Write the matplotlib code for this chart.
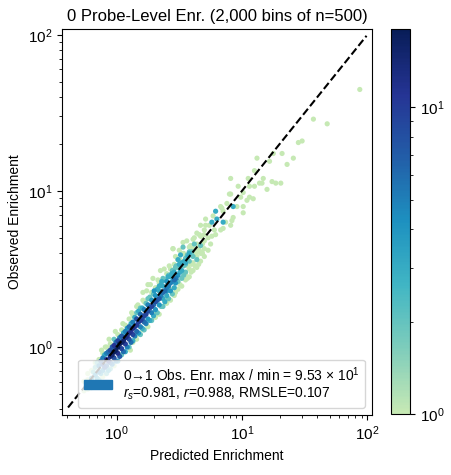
import numpy as np
import matplotlib
matplotlib.use("Agg")
import matplotlib.pyplot as plt
from matplotlib.colors import LinearSegmentedColormap, LogNorm
from matplotlib.patches import Patch

plt.rcParams["font.family"] = ["Liberation Sans", "DejaVu Sans"]
plt.rcParams["mathtext.fontset"] = "custom"
plt.rcParams["mathtext.rm"] = "Liberation Sans"
plt.rcParams["mathtext.it"] = "Liberation Sans:italic"
plt.rcParams["mathtext.default"] = "regular"

# log10 of predicted / observed enrichment and number of probes per bin
log_pred = [
    -0.26, -0.26,
    -0.23, -0.23, -0.23,
    -0.20, -0.20, -0.20,
    -0.17, -0.17, -0.17, -0.17,
    -0.14, -0.14, -0.14, -0.14,
    -0.11, -0.11, -0.11, -0.11, -0.11,
    -0.08, -0.08, -0.08, -0.08, -0.08,
    -0.05, -0.05, -0.05, -0.05, -0.05,
    -0.02, -0.02, -0.02, -0.02, -0.02,
    0.01, 0.01, 0.01, 0.01, 0.01,
    0.04, 0.04, 0.04, 0.04, 0.04,
    0.07, 0.07, 0.07, 0.07, 0.07,
    0.10, 0.10, 0.10, 0.10, 0.10,
    0.13, 0.13, 0.13, 0.13, 0.13,
    0.16, 0.16, 0.16, 0.16, 0.16, 0.16,
    0.19, 0.19, 0.19, 0.19, 0.19,
    0.22, 0.22, 0.22, 0.22, 0.22,
    0.25, 0.25, 0.25, 0.25, 0.25,
    0.28, 0.28, 0.28, 0.28, 0.28,
    0.31, 0.31, 0.31, 0.31, 0.31,
    0.34, 0.34, 0.34, 0.34, 0.34,
    0.37, 0.37, 0.37, 0.37, 0.37,
    0.40, 0.40, 0.40, 0.40, 0.40,
    0.43, 0.43, 0.43, 0.43, 0.43,
    0.46, 0.46, 0.46, 0.46, 0.46,
    0.49, 0.49, 0.49, 0.49, 0.49,
    0.52, 0.52, 0.52, 0.52, 0.52,
    0.55, 0.55, 0.55, 0.55,
    0.58, 0.58, 0.58, 0.58, 0.58,
    0.61, 0.61, 0.61, 0.61, 0.61,
    0.64, 0.64, 0.64, 0.64,
    0.67, 0.67, 0.67, 0.67,
    0.70, 0.70, 0.70, 0.70,
    0.79, 0.93, 0.76, 0.80, 0.85,
    0.91, 0.97, 0.90, 0.91, 1.04, 0.88, 0.83, 0.96, 1.01, 1.01,
    0.84, 0.85, 0.93, 0.71, 0.92, 0.87, 0.67, 0.91, 0.71, 0.85,
    0.83, 0.79, 0.76, 0.64, 0.68, 0.45,
    1.12, 1.22, 1.25, 1.32, 1.36, 1.41, 1.10, 1.05, 1.17, 1.16,
    1.14, 1.10, 1.06, 1.24, 1.27, 1.31, 1.20, 1.01, 0.99, 1.06, 1.09,
    1.94, 1.57, 1.68, 1.45, 1.48,
]
log_obs = [
    -0.28, -0.22,
    -0.27, -0.21, -0.17,
    -0.26, -0.20, -0.15,
    -0.24, -0.18, -0.13, -0.10,
    -0.21, -0.16, -0.12, -0.08,
    -0.19, -0.15, -0.11, -0.07, -0.04,
    -0.17, -0.12, -0.08, -0.04, 0.00,
    -0.14, -0.10, -0.06, -0.02, 0.02,
    -0.12, -0.07, -0.03, 0.01, 0.05,
    -0.09, -0.04, 0.00, 0.04, 0.08,
    -0.05, -0.01, 0.03, 0.07, 0.11,
    -0.03, 0.02, 0.06, 0.10, 0.14,
    0.00, 0.05, 0.09, 0.13, 0.18,
    0.04, 0.08, 0.12, 0.16, 0.20,
    0.05, 0.10, 0.14, 0.18, 0.22, 0.26,
    0.08, 0.13, 0.17, 0.21, 0.25,
    0.11, 0.16, 0.20, 0.24, 0.29,
    0.13, 0.18, 0.23, 0.27, 0.31,
    0.17, 0.22, 0.26, 0.30, 0.35,
    0.19, 0.24, 0.29, 0.33, 0.38,
    0.21, 0.27, 0.31, 0.36, 0.41,
    0.26, 0.31, 0.35, 0.39, 0.44,
    0.28, 0.33, 0.38, 0.42, 0.47,
    0.30, 0.36, 0.41, 0.45, 0.50,
    0.33, 0.38, 0.43, 0.48, 0.53,
    0.37, 0.42, 0.46, 0.51, 0.56,
    0.39, 0.44, 0.49, 0.54, 0.60,
    0.43, 0.48, 0.53, 0.57,
    0.45, 0.50, 0.55, 0.60, 0.64,
    0.49, 0.54, 0.58, 0.63, 0.69,
    0.51, 0.56, 0.61, 0.66,
    0.55, 0.60, 0.65, 0.71,
    0.58, 0.63, 0.68, 0.72,
    0.87, 0.90, 0.80, 0.82, 0.80,
    1.08, 1.03, 0.98, 0.98, 0.94, 0.92, 0.90, 0.90, 0.90, 0.86,
    0.89, 0.87, 0.83, 0.82, 0.81, 0.80, 0.78, 0.78, 0.78, 0.76,
    0.75, 0.72, 0.71, 0.73, 0.71, 0.63,
    1.21, 1.19, 1.24, 1.24, 1.17, 1.21, 1.13, 1.08, 1.08, 1.05,
    1.05, 1.03, 1.03, 1.06, 1.05, 1.05, 1.01, 0.99, 0.96, 0.96, 0.95,
    1.65, 1.46, 1.43, 1.31, 1.32,
]
bin_counts = [
    1, 1,
    1, 1, 1,
    2, 3, 1,
    1, 4, 2, 1,
    2, 5, 5, 1,
    1, 4, 8, 5, 1,
    2, 6, 11, 5, 1,
    2, 6, 14, 8, 1,
    1, 8, 18, 11, 2,
    3, 12, 18, 9, 1,
    2, 9, 16, 7, 1,
    3, 10, 13, 5, 1,
    2, 8, 12, 6, 1,
    3, 9, 12, 5, 1,
    1, 6, 10, 8, 2, 1,
    2, 5, 10, 6, 2,
    2, 6, 9, 5, 1,
    1, 4, 8, 5, 2,
    2, 5, 9, 4, 1,
    1, 4, 8, 4, 1,
    1, 4, 7, 3, 1,
    2, 3, 6, 3, 2,
    1, 3, 5, 4, 1,
    1, 4, 5, 3, 1,
    1, 3, 6, 3, 1,
    1, 2, 4, 2, 1,
    1, 2, 3, 3, 1,
    1, 2, 2, 2,
    1, 1, 2, 3, 1,
    1, 1, 2, 1, 1,
    1, 2, 1, 1,
    1, 1, 2, 1,
    1, 1, 1, 1,
    3, 3, 3, 3, 3,
    1, 1, 1, 1, 1, 1, 1, 1, 1, 1,
    1, 1, 1, 1, 1, 1, 1, 1, 1, 1,
    1, 1, 1, 1, 1, 1,
    1, 1, 1, 1, 1, 1, 1, 1, 1, 1,
    1, 1, 1, 1, 1, 1, 1, 1, 1, 1, 1,
    1, 1, 1, 1, 1,
]

# bins lying between the columns above, and the scattered outer bins
between_pred = [
    -0.215, -0.185, -0.155, -0.155, -0.125, -0.125, -0.095, -0.095,
    -0.065, -0.065, -0.065, -0.035, -0.035, -0.035, -0.005, -0.005, -0.005,
    0.025, 0.025, 0.025, 0.055, 0.055, 0.055, 0.085, 0.085, 0.085,
    0.115, 0.115, 0.115, 0.145, 0.145, 0.145, 0.175, 0.175, 0.175,
    0.205, 0.205, 0.205, 0.235, 0.235, 0.235, 0.265, 0.265, 0.265,
    0.295, 0.295, 0.295, 0.325, 0.325, 0.325, 0.355, 0.355, 0.355,
    0.385, 0.385, 0.385, 0.415, 0.415, 0.415, 0.445, 0.445, 0.445,
    0.475, 0.475, 0.475, 0.505, 0.505, 0.505, 0.535, 0.535, 0.535,
    0.565, 0.565, 0.565, 0.595, 0.595, 0.595, 0.625, 0.625, 0.655, 0.655,
    0.685, 0.685, 0.73, 0.73, 0.75, 0.78,
]
between_obs = [
    -0.24, -0.16, -0.20, -0.10, -0.17, -0.09, -0.13, -0.05,
    -0.15, -0.09, -0.03, -0.11, -0.05, 0.00, -0.09, -0.02, 0.03,
    -0.06, 0.02, 0.06, -0.03, 0.04, 0.09, 0.00, 0.07, 0.12,
    0.03, 0.10, 0.15, 0.07, 0.13, 0.19, 0.09, 0.16, 0.23,
    0.12, 0.18, 0.25, 0.15, 0.21, 0.28, 0.17, 0.25, 0.32,
    0.20, 0.27, 0.34, 0.22, 0.30, 0.37, 0.26, 0.33, 0.40,
    0.29, 0.36, 0.43, 0.31, 0.39, 0.46, 0.34, 0.42, 0.49,
    0.37, 0.44, 0.52, 0.40, 0.48, 0.56, 0.46, 0.52, 0.60,
    0.44, 0.52, 0.59, 0.48, 0.53, 0.62, 0.52, 0.60, 0.53, 0.63,
    0.60, 0.66, 0.62, 0.70, 0.66, 0.75,
]
between_counts = [
    2, 2, 3, 2, 3, 6, 7, 3,
    3, 10, 6, 5, 15, 7, 5, 16, 6,
    7, 17, 5, 6, 15, 3, 5, 12, 4,
    6, 11, 3, 5, 10, 3, 4, 9, 3,
    3, 8, 3, 5, 9, 2, 3, 8, 2,
    3, 6, 2, 2, 7, 3, 2, 5, 3,
    3, 6, 2, 2, 5, 2, 2, 4, 2,
    1, 5, 2, 1, 3, 1, 2, 2, 1,
    1, 1, 2, 1, 1, 1, 1, 1, 1, 1,
    1, 1, 1, 1, 1, 1,
]
outer_pred = [
    0.21, 0.31, 0.17, 0.12, 0.31, 0.05, 0.21, 0.16, -0.01, -0.06, 0.13,
    -0.09, 0.11, -0.12, 0.45, 0.53, 0.68, 0.35, 0.55, 0.29, 0.48, 0.47,
    0.25, 0.43, 0.21, 0.40, 0.61, 0.65, 0.64, 0.59,
    0.51, 0.49, 0.57, 0.55, 0.60, 0.53,
    0.62, 0.56, 0.50, 0.47, 0.42, 0.38, 0.33, 0.27, 0.24,
    0.74, 0.70, 0.77, 0.66,
    0.44, 0.50, 0.47, 0.41, 0.36, 0.58, 0.62, 0.54, 0.40, 0.47, 0.34, 0.30,
]
outer_obs = [
    0.35, 0.30, 0.27, 0.22, 0.21, 0.15, 0.11, 0.08, 0.10, 0.05, 0.03,
    0.00, -0.02, -0.02, 0.63, 0.67, 0.61, 0.49, 0.47, 0.44, 0.42, 0.35,
    0.40, 0.37, 0.30, 0.31, 0.62, 0.64, 0.58, 0.65,
    0.59, 0.56, 0.58, 0.54, 0.61, 0.64,
    0.70, 0.68, 0.62, 0.58, 0.52, 0.50, 0.43, 0.40, 0.36,
    0.78, 0.75, 0.84, 0.72,
    0.47, 0.53, 0.51, 0.45, 0.42, 0.61, 0.66, 0.55, 0.36, 0.41, 0.39, 0.36,
]
outer_counts = [
    1, 1, 1, 1, 1, 1, 1, 1, 1, 1, 1,
    1, 1, 1, 1, 1, 1, 1, 1, 1, 1, 1,
    1, 1, 1, 1, 1, 1, 1, 1,
    3, 3, 3, 3, 2, 2,
    1, 1, 1, 1, 1, 1, 1, 1, 1,
    1, 1, 1, 1,
    3, 3, 2, 3, 3, 2, 2, 3, 4, 4, 3, 4,
]

diagonal = [0.41, 98.6]
limits = [0.367, 109.0]
count_range = [1, 18]

legend_text = ("0\u21921 Obs. Enr. max / min = 9.53 \u00d7 10$^{1}$\n"
               "$\\mathit{r_s}$=0.981, $\\mathit{r}$=0.988, RMSLE=0.107")

pred = 10.0 ** np.array(log_pred + between_pred + outer_pred)
obs = 10.0 ** np.array(log_obs + between_obs + outer_obs)
counts = np.array(bin_counts + between_counts + outer_counts)
order = np.argsort(counts)

# light end of YlGnBu is dropped so single-probe bins stay visible
cmap = LinearSegmentedColormap.from_list(
    "ylgnbu_cut", plt.cm.YlGnBu(np.linspace(0.25, 1.0, 256)))

fig = plt.figure(figsize=(4.52, 4.75), dpi=100)
ax = fig.add_axes([62 / 452, 60 / 475, 310 / 452, 386 / 475])
cax = fig.add_axes([391 / 452, 61 / 475, 19 / 452, 385 / 475])

sc = ax.scatter(pred[order], obs[order], c=counts[order], s=14, linewidths=0,
                cmap=cmap, norm=LogNorm(*count_range))
ax.plot(diagonal, diagonal, "k--", lw=1.5)

ax.set_xscale("log")
ax.set_yscale("log")
ax.set_xlim(limits)
ax.set_ylim(limits)
ax.tick_params(labelsize=11)
ax.set_xlabel("Predicted Enrichment", fontsize=10)
ax.set_ylabel("Observed Enrichment", fontsize=10)
ax.set_title("0 Probe-Level Enr. (2,000 bins of n=500)", fontsize=12)

handle = Patch(color="C0", label=legend_text)
ax.legend(handles=[handle], loc="lower right", fontsize=10)

cb = fig.colorbar(sc, cax=cax)
cb.ax.tick_params(labelsize=11)

fig.savefig("out.png", dpi=100)
